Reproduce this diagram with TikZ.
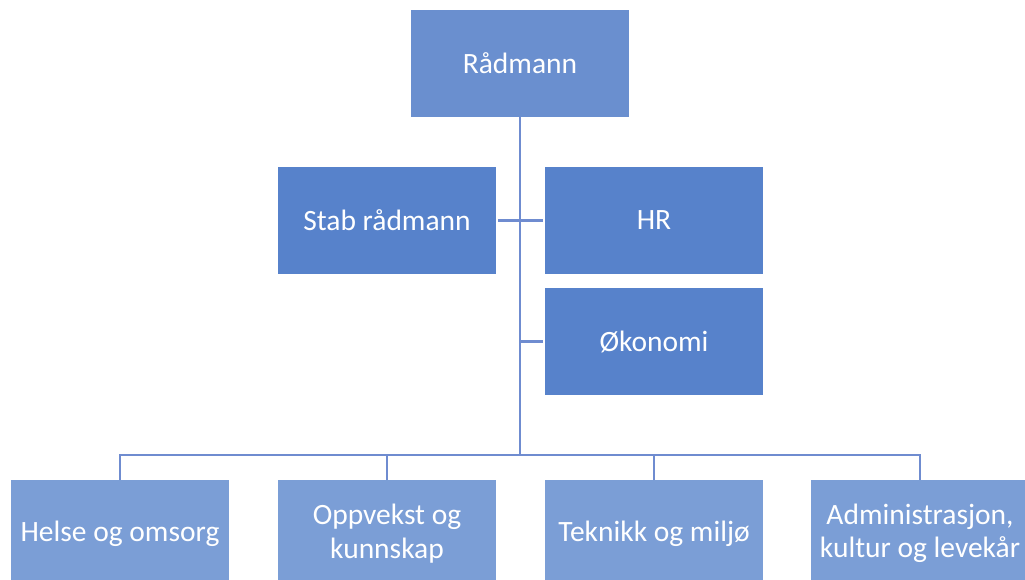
\documentclass[tikz,border=0pt]{standalone}
\usepackage{fontspec}
\setmainfont{Carlito}
\definecolor{topc}{HTML}{6A8FCF}
\definecolor{midc}{HTML}{5782CB}
\definecolor{botc}{HTML}{7B9ED6}
\definecolor{linec}{HTML}{6F8CD0}
\tikzset{
  orgbox/.style={anchor=north west, minimum width=218pt, minimum height=107pt,
    inner sep=0pt, outer sep=0pt, text=white, align=center,
    font=\fontsize{29.5}{33.5}\selectfont},
  topbox/.style={orgbox, fill=topc},
  midbox/.style={orgbox, fill=midc},
  botbox/.style={orgbox, fill=botc},
  conn/.style={draw=linec, line width=2.6pt}
}
\begin{document}
\begin{tikzpicture}[x=1pt,y=-1pt]
\useasboundingbox (0,0) rectangle (1025,580);
\clip (0,0) rectangle (1025,580);
\node[topbox] (rad) at (411,10) {Rådmann};
\node[midbox] (stab) at (278,167) {Stab rådmann};
\node[midbox] (hr) at (545,167) {HR};
\node[midbox] (oko) at (545,288) {Økonomi};
\node[botbox] (helse) at (11,480) {Helse og omsorg};
\node[botbox] (oppv) at (278,480) {Oppvekst og\\kunnskap};
\node[botbox] (tek) at (545,480) {Teknikk og miljø};
\node[botbox] (adm) at (811,480) {Administrasjon,\\kultur og levekår};
\coordinate (bus) at (520,455);
\draw[conn] (rad.south) -- (bus);
\draw[conn] (helse.north) |- (bus) -| (adm.north);
\draw[conn] (oppv.north) -- (oppv.north |- bus);
\draw[conn] (tek.north) -- (tek.north |- bus);
\draw[conn, shorten <=2pt, shorten >=2pt] (stab.east) -- (hr.west);
\draw[conn, shorten <=2pt] (oko.west) -- (oko.west -| bus);
\end{tikzpicture}
\end{document}
